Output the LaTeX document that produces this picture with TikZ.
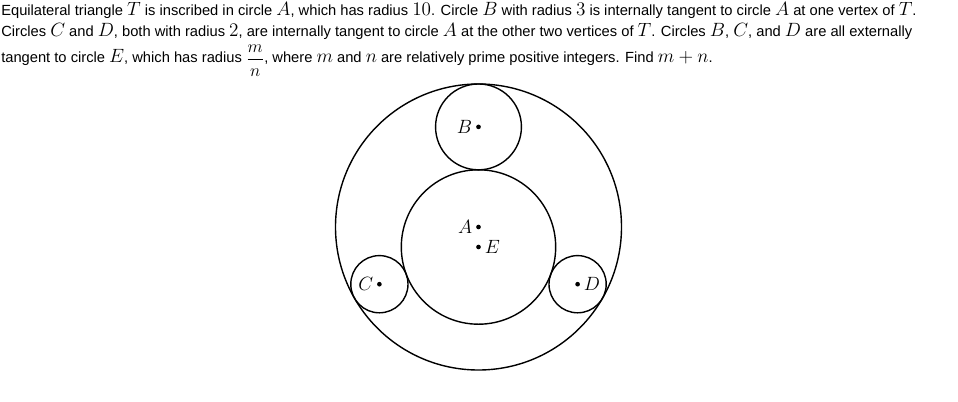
\documentclass[tikz,border=0pt]{standalone}
\usepackage{fix-cm}
\usepackage{amsmath}
\usepackage{fontspec}
\setmainfont{Liberation Sans}
\newcommand{\mth}[1]{{\fontsize{14.4}{16}\selectfont$#1$}}
\newcommand{\mfr}[2]{\raisebox{-1.2pt}{\fontsize{13.2}{16}\selectfont$\dfrac{#1}{#2}$}}
\begin{document}
\begin{tikzpicture}[x=0.75pt,y=-0.75pt,
  circ/.style={draw=black,line width=1.05pt},
  ctr/.style={circle,fill=black,inner sep=0pt,minimum size=3.5pt},
  lbl/.style={font=\fontsize{14.4}{16}\selectfont,inner sep=1.5pt},
  txt/.style={anchor=base west,inner sep=0pt,font=\fontsize{11.03}{13}\selectfont}]
\useasboundingbox (0,0) rectangle (958,401);
% problem text
\node[txt] (l1) at (1,15) {Equilateral triangle \mth{T} is inscribed in circle \mth{A}, which has radius \mth{10}. Circle \mth{B} with radius \mth{3} is internally tangent to circle \mth{A} at one vertex of \mth{T}.};
\node[txt] (l2) at (1,36) {Circles \mth{C} and \mth{D}, both with radius \mth{2}, are internally tangent to circle \mth{A} at the other two vertices of \mth{T}. Circles \mth{B}, \mth{C}, and \mth{D} are all externally};
\node[txt] (l3) at (1,62.5) {tangent to circle \mth{E}, which has radius \mfr{m}{n}, where \mth{m} and \mth{n} are relatively prime positive integers. Find \mth{m+n}.};
% centres
\coordinate (A) at (478.5,227);
\coordinate (B) at (478.5,126.9);
\coordinate (E) at (478.5,247);
\coordinate (C) at (379.4,284.2);
\coordinate (D) at (577.6,284.2);
% circles
\draw[circ] (A) circle[radius=107.25pt];
\draw[circ] (B) circle[radius=32.2pt];
\draw[circ] (E) circle[radius=57.9pt];
\draw[circ] (C) circle[radius=21.45pt];
\draw[circ] (D) circle[radius=21.45pt];
% dots and labels
\node[ctr] (dA) at (A) {};
\node[ctr] (dB) at (B) {};
\node[ctr] (dE) at (E) {};
\node[ctr] (dC) at (C) {};
\node[ctr] (dD) at (D) {};
\node[lbl,anchor=east] (tA) at ([xshift=-3pt]A) {$A$};
\node[lbl,anchor=east] (tB) at ([xshift=-3pt]B) {$B$};
\node[lbl,anchor=west] (tE) at ([xshift=3pt]E) {$E$};
\node[lbl,anchor=east] (tC) at ([xshift=-3pt]C) {$C$};
\node[lbl,anchor=west] (tD) at ([xshift=3pt]D) {$D$};
\end{tikzpicture}
\end{document}
